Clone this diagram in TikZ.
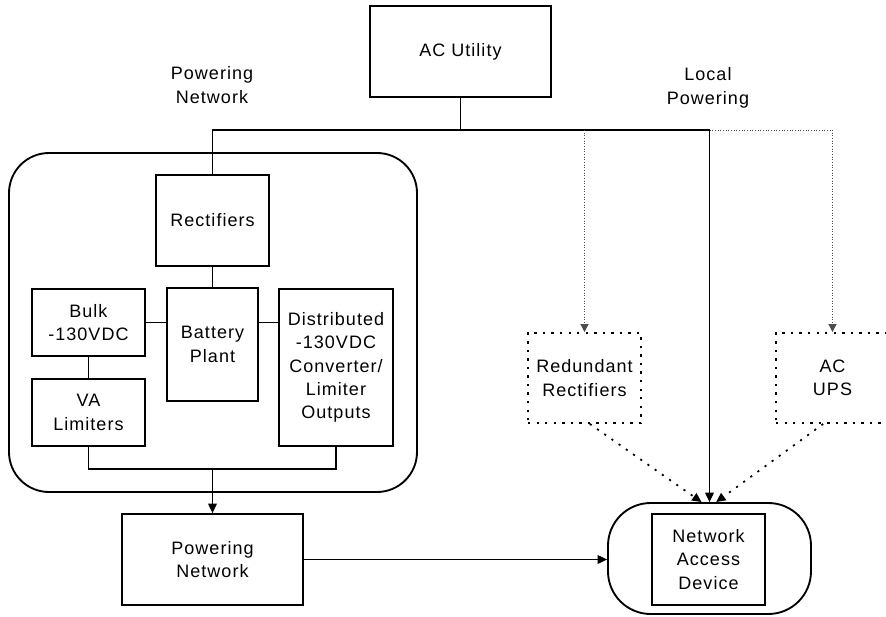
\documentclass[tikz,border=0pt]{standalone}
\usepackage{fontspec}
\setmainfont{Liberation Sans}[LetterSpace=5.6]
\usetikzlibrary{arrows.meta}
\tikzset{
  box/.style={draw, line width=1.4pt, inner sep=0pt, align=center,
    font=\fontsize{13.5}{17.5}\selectfont},
  dbox/.style={box, line width=1.4pt, dash pattern=on 1.8pt off 4.6pt},
  lbl/.style={inner sep=0pt, align=center, font=\fontsize{13.5}{18.5}\selectfont},
  wire/.style={line width=0.8pt},
  fine/.style={line width=0.7pt, dash pattern=on 0.7pt off 1.3pt, black!70},
  dotcon/.style={line width=1.3pt, dash pattern=on 1.6pt off 5pt},
  tip/.style={-{Triangle[length=7pt,width=6.5pt]}},
  stip/.style={-{Triangle[length=6pt,width=6pt]}}
}
\begin{document}
\begin{tikzpicture}[x=0.75pt,y=-0.75pt]
\useasboundingbox (0,0) rectangle (886,617);
\clip (0,0) rectangle (886,617);
% outer containers
\node[box, rounded corners=30pt, minimum width=306pt, minimum height=254.25pt] (pbox) at (213,322.5) {};
\node[box, rounded corners=32pt, minimum width=152.25pt, minimum height=83.25pt] (nad) at (709.5,558.5) {};
% boxes
\node[box, minimum width=135.75pt, minimum height=68.25pt] (ac) at (460.5,51.5) {AC Utility};
\node[box, minimum width=84.75pt, minimum height=68.25pt] (rect) at (212.5,220.5) {Rectifiers};
\node[box, minimum width=68.25pt, minimum height=84.75pt] (bat) at (212.5,344.5) {Battery\\Plant};
\node[box, minimum width=84.75pt, minimum height=50.25pt] (bulk) at (88.5,322.5) {Bulk\\-130VDC};
\node[box, minimum width=84.75pt, minimum height=50.25pt] (va) at (88.5,412.5) {VA\\Limiters};
\node[box, minimum width=85.5pt, minimum height=117.75pt] (dist) at (336,367.5) {Distributed\\-130VDC\\Converter/\\Limiter\\Outputs};
\node[box, minimum width=135.75pt, minimum height=68.25pt] (pn) at (212.5,559.5) {Powering\\Network};
\node[box, minimum width=84.75pt, minimum height=68.25pt] (nadin) at (708.5,559.5) {Network\\Access\\Device};
\node[dbox, minimum width=84.75pt, minimum height=67.5pt] (red) at (584.5,378) {Redundant\\Rectifiers};
\node[dbox, minimum width=84.75pt, minimum height=67.5pt] (ups) at (832.5,378) {AC\\UPS};
% labels
\node[lbl] (lpn) at (212,85) {Powering\\Network};
\node[lbl] (llp) at (708,88) {Local\\Powering};
% coordinates
\coordinate (top) at (0,130);
\coordinate (bus) at (212.5,469);
% top distribution
\draw[wire] (ac.south) -- (ac.south |- top);
\draw[wire] (rect.north) -- (rect.north |- top) -- (nad.north |- top);
\draw[wire, tip] (nad.north |- top) -- (nad.north);
\draw[fine] (nad.north |- top) -- (ups.north |- top);
\draw[fine, stip] (ups.north |- top) -- (ups.north);
\draw[fine, stip] (red.north |- top) -- (red.north);
% inside powering network
\draw[wire] (rect.south) -- (bat.north);
\draw[wire] (bulk.east) -- (bulk.east -| bat.west);
\draw[wire] (bat.east |- bulk.east) -- (dist.west |- bulk.east);
\draw[wire] (bulk.south) -- (va.north);
\draw[wire] (va.south) |- (bus) -| (dist.south);
\draw[wire, tip] (bus) -- (pn.north);
% to network access device
\draw[wire, tip] (pn.east) -- (pn.east -| nad.west);
\draw[dotcon, tip] ([xshift=4pt]red.south) -- ([xshift=-6pt]nad.north);
\draw[dotcon, tip] ([xshift=-7pt]ups.south) -- ([xshift=5pt]nad.north);
\end{tikzpicture}
\end{document}
